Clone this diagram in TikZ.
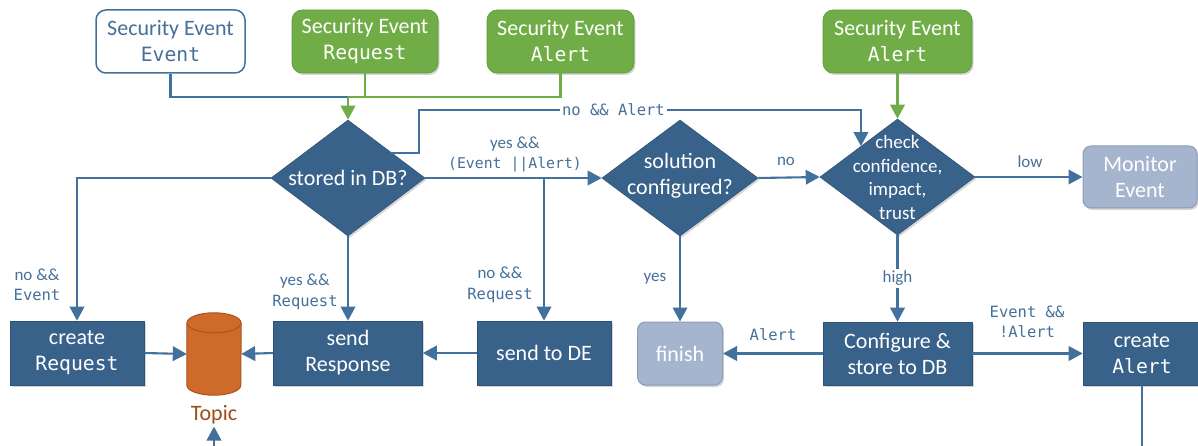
\documentclass[tikz,border=0pt]{standalone}
\usepackage{fontspec}
\setmainfont{Carlito}
\newfontfamily\monof{DejaVu Sans Mono}
\usetikzlibrary{shapes.geometric,arrows.meta,calc,shadows}
\definecolor{dk}{RGB}{57,98,138}
\definecolor{dkb}{RGB}{46,82,118}
\definecolor{lnc}{RGB}{65,113,156}
\definecolor{ltc}{RGB}{70,112,155}
\definecolor{grc}{RGB}{112,173,71}
\definecolor{grb}{RGB}{96,152,60}
\definecolor{gyc}{RGB}{165,181,205}
\definecolor{gyb}{RGB}{140,157,184}
\definecolor{orc}{RGB}{207,107,42}
\definecolor{orb}{RGB}{168,84,28}
\definecolor{tpc}{RGB}{156,76,22}
\newcommand{\mbx}[1]{{\monof\fontsize{19.7}{26}\selectfont #1}}
\newcommand{\mtx}[1]{{\monof\fontsize{15.5}{20.5}\selectfont #1}}
\newcommand{\mtxs}[1]{{\monof\fontsize{14.8}{20.5}\selectfont #1}}
\begin{document}
\begin{tikzpicture}[x=1pt,y=-1pt,
  shad/.style={drop shadow={shadow xshift=1.5pt,shadow yshift=-2pt,opacity=0.16,fill=black}},
  bigf/.style={font=\fontsize{22}{26}\selectfont},
  dkbox/.style={rectangle,fill=dk,draw=dkb,line width=0.6pt,text=white,align=center,inner sep=0pt,bigf,shad},
  grbox/.style={rectangle,rounded corners=10pt,fill=grc,draw=grb,line width=0.6pt,text=white,align=center,inner sep=0pt,bigf,shad},
  wbox/.style={rectangle,rounded corners=10pt,fill=white,draw=lnc,line width=1.5pt,text=ltc,align=center,inner sep=0pt,bigf},
  gybox/.style={rectangle,rounded corners=8pt,fill=gyc,draw=gyb,line width=1pt,text=white,align=center,inner sep=0pt,bigf,shad},
  dia/.style={diamond,fill=dk,draw=dkb,line width=0.6pt,inner sep=0pt,shad},
  dtxt/.style={text=white,align=center,inner sep=0pt,bigf},
  ctxt/.style={text=white,align=center,inner sep=0pt,font=\fontsize{19}{23.7}\selectfont},
  slbl/.style={text=ltc,align=center,inner sep=1pt,font=\fontsize{17}{20.5}\selectfont},
  mlbl/.style={text=ltc,align=center,inner sep=1pt,font=\monof\fontsize{15.5}{20.5}\selectfont},
  ar/.style={draw=lnc,line width=2.1pt,-{Triangle[length=14pt,width=14.5pt]}},
  ln/.style={draw=lnc,line width=2.1pt},
  gln/.style={draw=grc,line width=2.1pt},
  gar/.style={draw=grc,line width=2.1pt,-{Triangle[length=14pt,width=14.5pt]}}
]
\fill[white] (0,0) rectangle (1198,446);
\useasboundingbox (0,0) rectangle (1198,446);

% source boxes
\node[wbox,minimum width=149pt,minimum height=63pt] (ev) at (170.5,41.5) {Security Event\\\mbx{Event}};
\node[grbox,minimum width=146pt,minimum height=63pt] (rq) at (365,41.5) {Security Event\\\mbx{Request}};
\node[grbox,minimum width=147pt,minimum height=63pt] (al1) at (560.5,41.5) {Security Event\\\mbx{Alert}};
\node[grbox,minimum width=149pt,minimum height=63pt] (al2) at (897.5,41.5) {Security Event\\\mbx{Alert}};

% decisions
\node[dia,minimum width=154pt,minimum height=116pt] (dst) at (348,178) {};
\node[dtxt] (dstt) at (dst) {stored in DB?};
\node[dia,minimum width=156pt,minimum height=116pt] (dsol) at (680,178) {};
\node[dtxt] (dsolt) at (680,176) {solution\\configured?};
\node[dia,minimum width=155pt,minimum height=116pt] (dchk) at (897.5,177) {};
\node[ctxt] (dchkt) at (897.5,177.5) {check\\confidence,\\impact,\\trust};

% bottom row
\node[gybox,minimum width=114pt,minimum height=62pt] (mon) at (1140,177) {Monitor\\Event};
\node[dkbox,minimum width=134pt,minimum height=64pt] (creq) at (77,353) {create\\\mbx{Request}};
\node[dkbox,minimum width=149pt,minimum height=64pt] (sresp) at (348,353) {send\\Response};
\node[dkbox,minimum width=134pt,minimum height=64pt] (sde) at (544,353) {send to DE};
\node[gybox,minimum width=85pt,minimum height=63pt] (fin) at (680,353.5) {finish};
\node[dkbox,minimum width=149pt,minimum height=63pt] (conf) at (897.5,353.5) {Configure \&\\store to DB};
\node[dkbox,minimum width=118pt,minimum height=63pt] (cal) at (1142,353.5) {create\\\mbx{Alert}};

% topic cylinder
\node[minimum width=54pt,minimum height=82pt,inner sep=0pt] (topic) at (214,354) {};
\fill[orc] ([yshift=-10pt]topic.north west) -- ([yshift=10pt]topic.south west)
  arc[start angle=180,end angle=360,x radius=27pt,y radius=10pt]
  -- ([yshift=-10pt]topic.north east)
  arc[start angle=0,end angle=180,x radius=27pt,y radius=10pt] -- cycle;
\draw[orb,line width=1pt] ([yshift=-10pt]topic.north west) -- ([yshift=10pt]topic.south west)
  arc[start angle=180,end angle=360,x radius=27pt,y radius=10pt]
  -- ([yshift=-10pt]topic.north east);
\draw[orb,line width=1pt] ([yshift=-10pt]topic.north) ellipse[x radius=27pt,y radius=10pt];
\node[text=tpc,inner sep=2pt,font=\fontsize{22}{26}\selectfont] (tlbl) at (214,415) {Topic};

% coordinates
\coordinate (jn) at (348,97);
\coordinate (na0) at ($(dst.east)!0.43!(dst.north)$);
\coordinate (na1) at (419,110);
\coordinate (na2) at ($(dchk.west)!0.53!(dchk.north)$);
\coordinate (br) at (sde.north |- dst.east);
\coordinate (tb) at (214,446);
\coordinate (cb) at (1142,446);

% connectors
\draw[ln] (ev.south) |- (jn);
\draw[gln] (al1.south) |- (jn);
\draw[gln] (rq.south) -- (rq.south |- jn);
\draw[gar] (jn) -- (dst.north);
\draw[gar] (al2.south) -- (dchk.north);
\draw[ar] (na0) -| (na1) -- node[mlbl,fill=white,pos=0.44,inner sep=2pt] (lna) {no \&\& Alert} (na1 -| na2) -- (na2);
\draw[ar] (dst.east) -- (dsol.west);
\draw[ar] (br) -- (sde.north);
\draw[ar] (dst.west) -| (creq.north);
\draw[ar] (dst.south) -- (sresp.north);
\draw[ar] (dsol.east) -- (dchk.west);
\draw[ar] (dsol.south) -- (fin.north);
\draw[ar] (dchk.east) -- (mon.west);
\draw[ar] (dchk.south) -- node[slbl,fill=white,pos=0.5,inner sep=2pt] (lhi) {high} (conf.north);
\draw[ar] (conf.west) -- (fin.east);
\draw[ar] (conf.east) -- (cal.west);
\draw[ar] (sde.west) -- (sresp.east);
\draw[ar] (sresp.west) -- (topic.east);
\draw[ar] (creq.east) -- (topic.west);
\draw[ar] (tb) -- (tlbl.south);
\draw[ln] (cal.south) -- (cb);

% labels
\node[slbl] (l1) at (515,154.5) {yes \&\&\\\mtxs{(Event ||Alert)}};
\node[slbl] (l2) at (500,285) {no \&\&\\\mtx{Request}};
\node[slbl] (l3) at (37,285) {no \&\&\\\mtx{Event}};
\node[slbl] (l4) at (305,292) {yes \&\&\\\mtx{Request}};
\node[slbl] (l5) at (786,161) {no};
\node[slbl] (l6) at (655,279) {yes};
\node[slbl] (l7) at (1030,162) {low};
\node[mlbl] (l8) at (773,335) {Alert};
\node[mlbl] (l9) at (1027,322) {Event \&\&\\!Alert};
\end{tikzpicture}
\end{document}
